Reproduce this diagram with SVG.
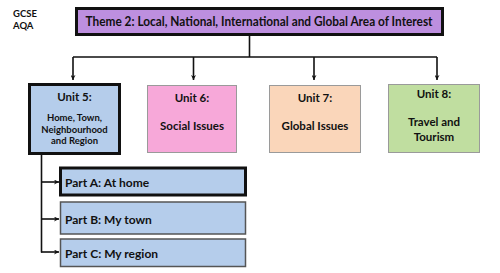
<svg xmlns="http://www.w3.org/2000/svg" width="500" height="273" viewBox="0 0 500 273">
<defs>
<style>
text{font-family:Lato,"Open Sans","Liberation Sans",sans-serif;font-weight:bold;fill:#111}
.c{text-anchor:middle}
.thick{stroke:#111;stroke-width:3}
.thin{stroke:#9a9a9a;stroke-width:1}
.mid{stroke:#555;stroke-width:1.5}
.ln{fill:none;stroke:#111;stroke-width:1.6}
</style>
<marker id="ah" viewBox="0 0 10 10" refX="10" refY="5" markerWidth="5" markerHeight="5" orient="auto" markerUnits="userSpaceOnUse">
<path d="M0,0 L10,5 L0,10 L3,5 Z" fill="#111"/>
</marker>
</defs>
<rect width="500" height="273" fill="#fff"/>
<g id="label">
<text x="13" y="17" font-size="9.5">GCSE</text>
<text x="13" y="29" font-size="9.5">AQA</text>
</g>
<g id="connectors">
<path class="ln" d="M249.5,35 V57 M73,57 H437"/>
<path class="ln" d="M73,57 V80" marker-end="url(#ah)"/>
<path class="ln" d="M193.5,57 V80" marker-end="url(#ah)"/>
<path class="ln" d="M314,57 V80" marker-end="url(#ah)"/>
<path class="ln" d="M437,57 V80" marker-end="url(#ah)"/>
<path class="ln" d="M41.5,155 V252.5"/>
<path class="ln" d="M41,182 H59" marker-end="url(#ah)"/>
<path class="ln" d="M41,219 H59" marker-end="url(#ah)"/>
<path class="ln" d="M41,252 H59" marker-end="url(#ah)"/>
</g>
<g id="theme">
<rect x="76.5" y="8.5" width="366" height="26" fill="#bd8fdf" class="thick"/>
<text x="259" y="26" font-size="12.5" class="c" textLength="347" lengthAdjust="spacingAndGlyphs">Theme 2: Local, National, International and Global Area of Interest</text>
</g>
<g id="unit5">
<rect x="29.5" y="84.5" width="90" height="69" fill="#b5cdeb" class="thick"/>
<text x="74.5" y="101" font-size="11.5" class="c">Unit 5:</text>
<text x="74.5" y="121" font-size="9.5" class="c">Home, Town,</text>
<text x="74.5" y="132.5" font-size="9.5" class="c">Neighbourhood</text>
<text x="74.5" y="144" font-size="9.5" class="c">and Region</text>
</g>
<g id="unit6">
<rect x="147.5" y="85.5" width="89" height="67" fill="#f7a8d9" class="thin"/>
<text x="192" y="102" font-size="11.5" class="c">Unit 6:</text>
<text x="192" y="130" font-size="11.5" class="c">Social Issues</text>
</g>
<g id="unit7">
<rect x="269.5" y="85.5" width="91" height="67" fill="#fad6ba" class="thin"/>
<text x="315" y="102" font-size="11.5" class="c">Unit 7:</text>
<text x="315" y="130" font-size="11.5" class="c">Global Issues</text>
</g>
<g id="unit8">
<rect x="388.5" y="84.5" width="91" height="68" fill="#c0dea0" class="thin"/>
<text x="434" y="98" font-size="11.5" class="c">Unit 8:</text>
<text x="434" y="125.5" font-size="11.5" class="c">Travel and</text>
<text x="434" y="140.5" font-size="11.5" class="c">Tourism</text>
</g>
<g id="partA">
<rect x="60.5" y="168" width="185" height="27" fill="#b5cdeb" class="thick"/>
<text x="65" y="186.5" font-size="12">Part A: At home</text>
</g>
<g id="partB">
<rect x="60.5" y="202" width="185" height="32" fill="#b5cdeb" class="mid"/>
<text x="65" y="224" font-size="12">Part B: My town</text>
</g>
<g id="partC">
<rect x="60.5" y="239" width="185" height="27.5" fill="#b5cdeb" class="mid"/>
<text x="65" y="257.5" font-size="12">Part C: My region</text>
</g>
</svg>
